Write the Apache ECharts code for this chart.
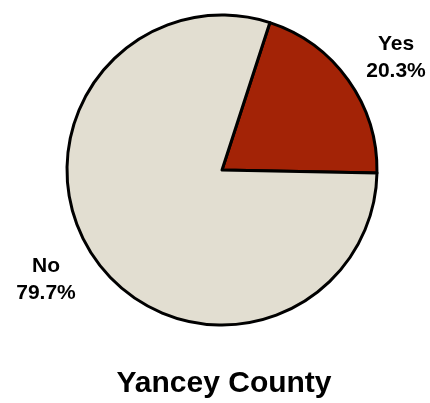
<!DOCTYPE html>
<html><head><meta charset="utf-8">
<script src="https://cdn.jsdelivr.net/npm/echarts@6/dist/echarts.min.js"></script>
<style>html,body{margin:0;padding:0;background:#fff}#c{width:430px;height:403px}</style>
</head><body><div id="c"></div>
<script>
const categories = ['Yes', 'No'];
const values = [20.3, 79.7];
const colors = ['#A32306', '#E2DED1'];
const title = 'Yancey County';

const chart = echarts.init(document.getElementById('c'), null, {renderer: 'canvas'});
const labelPos = [[396, 58], [46, 280]];
chart.setOption({
  animation: false,
  title: {
    text: title, left: 219, textAlign: 'center', top: 364,
    textStyle: {fontFamily: 'Liberation Sans', fontWeight: 'bold', fontSize: 30, color: '#000'}
  },
  series: [{
    type: 'pie',
    center: [222, 170],
    radius: [0, 155],
    startAngle: 72,
    clockwise: true,
    data: categories.map((c, i) => ({name: c, value: values[i], itemStyle: {color: colors[i]}})),
    itemStyle: {borderColor: '#000', borderWidth: 3},
    label: {
      show: true, position: 'outside', overflow: 'none', alignTo: 'none',
      formatter: p => p.name + '\n' + p.value.toFixed(1) + '%',
      fontFamily: 'Liberation Sans', fontWeight: 'bold', fontSize: 21, color: '#000',
      lineHeight: 27, align: 'center'
    },
    labelLine: {show: false},
    labelLayout: p => ({x: labelPos[p.dataIndex][0], y: labelPos[p.dataIndex][1], align: 'center', verticalAlign: 'middle'}),
    emphasis: {disabled: true}
  }]
});
</script></body></html>
